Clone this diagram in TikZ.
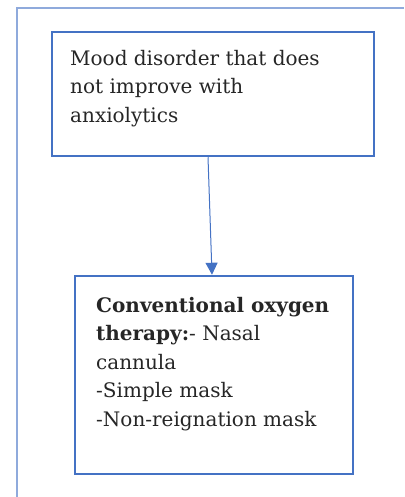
\documentclass[tikz,border=0pt]{standalone}
\usepackage{fontspec}
\setmainfont{DejaVu Serif}
\usetikzlibrary{arrows.meta}
\definecolor{boxblue}{RGB}{68,114,196}
\definecolor{frameblue}{RGB}{143,170,220}

\begin{document}
\begin{tikzpicture}[
  x=1pt, y=-1pt,
  box/.style={draw=boxblue, line width=2.5pt, inner sep=0pt},
  txt/.style={anchor=north west, align=left, inner sep=0pt, text=black!85, font=\fontsize{20}{28.5}\selectfont},
  arr/.style={-{Triangle[length=12pt,width=12pt]}, boxblue, line width=1pt}
]
\useasboundingbox (0,0) rectangle (404,497);
\draw[frameblue, line width=1.8pt] (17,497) -- (17,8) -- (404,8);

\node[box, minimum width=322pt, minimum height=124pt] (mood) at (213,94) {};
\node[txt] (moodtxt) at (70,50) {Mood disorder that does\\not improve with\\anxiolytics};

\node[box, minimum width=278pt, minimum height=198pt] (oxy) at (214,375) {};
\node[txt] (oxytxt) at (96,297) {\textbf{Conventional oxygen}\\\textbf{therapy:}- Nasal\\cannula\\-Simple mask\\-Non-reignation mask};

\draw[arr] ([xshift=-5pt]mood.south) -- ([xshift=-2pt]oxy.north);
\end{tikzpicture}
\end{document}
